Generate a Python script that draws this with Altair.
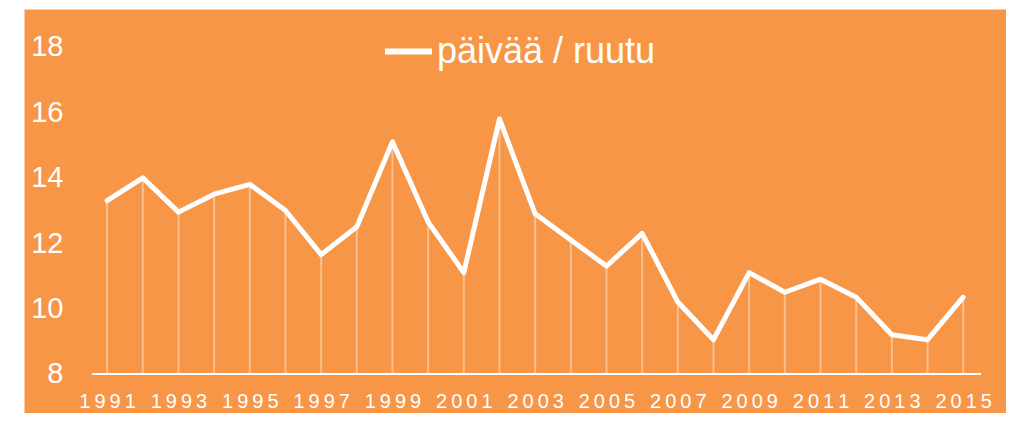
import altair as alt
import pandas as pd

# ---- data ----
years = list(range(1991, 2016))
values = [13.3, 14.0, 12.95, 13.5, 13.8, 13.0, 11.65, 12.5, 15.1, 12.65,
          11.1, 15.8, 12.9, 12.1, 11.3, 12.3, 10.2, 9.05, 11.1, 10.5,
          10.9, 10.35, 9.2, 9.05, 10.35]
series_name = "päivää / ruutu"
y_ticks = [8, 10, 12, 14, 16, 18]
x_ticks = list(range(1991, 2016, 2))

ORANGE = "#F79646"
FONT = "Liberation Sans"

df = pd.DataFrame({"year": years, "value": values, "series": series_name})

x_scale = alt.Scale(domain=[1988.67, 2016.2], nice=False, zero=False)
y_scale = alt.Scale(domain=[6.807, 19.162], nice=False, zero=False)

x_axis = alt.Axis(values=x_ticks, format="d", title=None, grid=False, ticks=False,
                  domain=False, labelColor="white", labelFont=FONT, labelFontSize=20,
                  labelPadding=17, offset=-39,
                  labelExpr="join(split(datum.label, ''), '\u2009')")
y_axis = alt.Axis(values=y_ticks, title=None, grid=False, ticks=False, domain=False,
                  labelColor="white", labelFont=FONT, labelFontSize=29,
                  labelPadding=2, offset=-41)

base = alt.Chart(df)

drops = base.mark_rule(color="white", opacity=0.4, strokeWidth=2).encode(
    x=alt.X("year:Q", scale=x_scale, axis=x_axis),
    y=alt.Y("value:Q", scale=y_scale, axis=y_axis),
    y2=alt.datum(8),
)

baseline = alt.Chart(pd.DataFrame({"a": [0]})).mark_rule(color="white", strokeWidth=2).encode(
    x=alt.datum(1990.58, scale=x_scale),
    x2=alt.datum(2015.5),
    y=alt.datum(8, scale=y_scale),
)

line = base.mark_line(strokeWidth=5, strokeJoin="round", strokeCap="round").encode(
    x=alt.X("year:Q", scale=x_scale),
    y=alt.Y("value:Q", scale=y_scale),
    color=alt.Color("series:N", scale=alt.Scale(range=["white"]),
                    legend=alt.Legend(title=None, orient="none", legendX=358, legendY=16,
                                      symbolType="stroke", symbolSize=2209,
                                      symbolStrokeWidth=6, symbolStrokeColor="white",
                                      labelColor="white", labelFont=FONT,
                                      labelFontSize=36, labelOffset=2, labelLimit=500,
                                      padding=0)),
)

chart = alt.layer(drops, baseline, line).properties(
    width=982, height=404,
    padding={"left": 16, "top": 1, "right": 0, "bottom": 0},
).configure_view(fill=ORANGE, stroke="transparent")

chart.save("out.html", embed_options={"renderer": "svg", "actions": False})
